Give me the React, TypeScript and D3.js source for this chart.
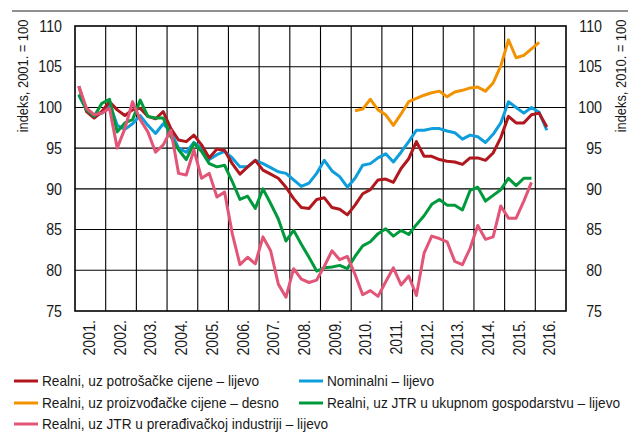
import React from "react";
import * as d3 from "d3";

// ---------- data (quarterly, first quarter = 2001 Q1) ----------
const startYear = 2001;
const yearLabels = ["2001.", "2002.", "2003.", "2004.", "2005.", "2006.", "2007.", "2008.", "2009.", "2010.", "2011.", "2012.", "2013.", "2014.", "2015.", "2016."];
const leftTicks = [75, 80, 85, 90, 95, 100, 105, 110];
const rightTicks = [75, 80, 85, 90, 95, 100, 105, 110];

// Realni, uz potrošačke cijene – lijevo (2001Q1 ..)
const realCpi = [
  102.6, 99.5, 98.7, 99.5, 100.7, 99.7, 99.0, 99.7, 99.9, 98.9, 98.6, 99.5, 97.4, 96.0, 95.8, 96.6,
  95.4, 93.8, 94.9, 94.7, 93.1, 91.8, 92.7, 93.5, 92.3, 91.8, 91.3, 90.2, 88.8, 87.7, 87.6, 88.7, 88.9,
  87.7, 87.5, 86.8, 88.0, 89.4, 89.9, 91.1, 91.2, 90.8, 92.5, 93.7, 95.8, 94.0, 94.0, 93.6, 93.4,
  93.3, 93.0, 93.8, 93.8, 93.5, 94.4, 96.3, 98.9, 98.1, 98.1, 99.1, 99.3, 97.6,
];
const realCpiStart = 0;

// Nominalni – lijevo
const nominal = [
  101.5, 99.7, 98.9, 99.3, 100.5, 97.8, 97.3, 98.0, 99.0, 97.8, 96.8, 98.0, 97.0, 95.0, 94.5, 95.7,
  95.0, 93.6, 94.2, 94.6, 93.8, 92.7, 92.7, 93.5, 93.1, 92.6, 92.1, 91.9, 91.1, 90.3, 90.7, 91.9, 93.5,
  92.2, 91.5, 90.2, 91.3, 92.9, 93.1, 93.8, 94.3, 93.3, 94.5, 95.8, 97.2, 97.2, 97.4, 97.4, 97.1,
  96.9, 96.1, 96.6, 96.4, 95.7, 96.7, 98.1, 100.7, 100.0, 99.3, 100.0, 99.4, 97.2,
];
const nominalStart = 0;

// Realni, uz proizvođačke cijene – desno (from 2010Q1)
const realPpi = [
  99.6, 99.8, 101.0, 99.7, 99.1, 97.8, 99.2, 100.7, 101.1, 101.5, 101.8, 102.0, 101.3, 101.9, 102.1, 102.4,
  102.5, 102.0, 103.0, 105.1, 108.3, 106.1, 106.4, 107.2, 108.0,
];
const realPpiStart = 36;

// Realni, uz JTR u ukupnom gospodarstvu – lijevo
const realUlcTotal = [
  101.6, 99.7, 98.9, 100.5, 101.0, 97.0, 98.1, 98.5, 100.9, 98.9, 98.7, 98.7, 96.4, 94.8, 93.6, 95.6,
  94.6, 93.1, 92.7, 92.9, 90.9, 88.7, 89.1, 87.6, 90.0, 88.2, 86.3, 83.6, 84.9, 83.2, 81.6, 79.9, 80.3,
  80.4, 80.6, 80.2, 81.7, 83.0, 83.5, 84.5, 85.1, 84.2, 84.9, 84.4, 85.6, 86.7, 88.1, 88.7, 88.0,
  88.0, 87.4, 89.8, 90.2, 88.5, 89.2, 89.9, 91.3, 90.4, 91.3, 91.3,
];
const realUlcTotalStart = 0;

// Realni, uz JTR u prerađivačkoj industriji – lijevo
const realUlcManuf = [
  102.6, 99.9, 99.1, 99.3, 99.9, 95.0, 97.4, 100.7, 98.5, 97.0, 94.5, 95.4, 97.2, 91.9, 91.7, 94.8,
  91.3, 91.9, 89.0, 89.6, 84.5, 80.7, 81.6, 80.8, 84.1, 82.4, 78.3, 76.7, 80.2, 78.9, 78.5, 78.8, 80.5,
  82.4, 81.3, 81.7, 79.5, 77.0, 77.5, 76.8, 78.6, 80.3, 78.2, 79.3, 76.9, 82.1, 84.2, 83.9, 83.5,
  81.1, 80.7, 82.7, 85.5, 83.8, 84.1, 87.9, 86.4, 86.4, 88.5, 90.8,
];
const realUlcManufStart = 0;

const legendLabels = [
  "Realni, uz potrošačke cijene – lijevo",
  "Nominalni – lijevo",
  "Realni, uz proizvođačke cijene – desno",
  "Realni, uz JTR u ukupnom gospodarstvu – lijevo",
  "Realni, uz JTR u prerađivačkoj industriji – lijevo",
];

// ---------- styling ----------
const W = 638;
const H = 434;
const M = { left: 75, right: 566, top: 26, bottom: 311 };
const FONT = "'Liberation Sans', Arial, 'Helvetica', sans-serif";
const TEXT = "#1a1a1a";

const COLORS = {
  red: "#b0181e",
  blue: "#0d9edb",
  orange: "#f39200",
  green: "#009a3d",
  pink: "#e25577",
};

type Series = { key: string; values: number[]; start: number; color: string; axis: "left" | "right" };

const series: Series[] = [
  { key: "nominal", values: nominal, start: nominalStart, color: COLORS.blue, axis: "left" },
  { key: "realCpi", values: realCpi, start: realCpiStart, color: COLORS.red, axis: "left" },
  { key: "realPpi", values: realPpi, start: realPpiStart, color: COLORS.orange, axis: "right" },
  { key: "realUlcTotal", values: realUlcTotal, start: realUlcTotalStart, color: COLORS.green, axis: "left" },
  { key: "realUlcManuf", values: realUlcManuf, start: realUlcManufStart, color: COLORS.pink, axis: "left" },
];

const legendItems = [
  { label: legendLabels[0], color: COLORS.red, col: 0, row: 0 },
  { label: legendLabels[1], color: COLORS.blue, col: 1, row: 0 },
  { label: legendLabels[2], color: COLORS.orange, col: 0, row: 1 },
  { label: legendLabels[3], color: COLORS.green, col: 1, row: 1 },
  { label: legendLabels[4], color: COLORS.pink, col: 0, row: 2 },
];

const NUM_SCALE = 0.89; // condensed look of numerals

export default function App() {
  const x = d3.scaleLinear().domain([startYear, startYear + yearLabels.length]).range([M.left, M.right]);
  const yL = d3.scaleLinear().domain([75, 110]).range([M.bottom, M.top]);
  const yR = d3.scaleLinear().domain([75, 110]).range([M.bottom, M.top]);

  const qx = (i: number) => x(startYear + (i + 0.5) / 4);

  const lineFor = (s: Series) => {
    const sc = s.axis === "left" ? yL : yR;
    const gen = d3
      .line<number>()
      .x((_, i) => qx(s.start + i))
      .y((v) => sc(v));
    return gen(s.values) || "";
  };

  const innerY = leftTicks.filter((t) => t !== 75 && t !== 110);
  const innerX = d3.range(startYear + 1, startYear + yearLabels.length);

  const legendColX = [14, 299];
  const legendRowY = [381, 403, 424];

  return (
    <div style={{ position: "absolute", left: 0, top: 0 }}>
      <svg width={W} height={H} style={{ display: "block", background: "#fff" }} fontFamily={FONT}>
        {/* top rule */}
        <line x1={12} x2={628} y1={11} y2={11} stroke="#6b6b6b" strokeWidth={1.5} />

        {/* grid */}
        {innerY.map((t) => (
          <line key={"hy" + t} x1={M.left} x2={M.right} y1={yL(t)} y2={yL(t)} stroke="#000" strokeWidth={1.1} />
        ))}
        {innerX.map((t) => (
          <line key={"vx" + t} x1={x(t)} x2={x(t)} y1={M.top} y2={M.bottom} stroke="#000" strokeWidth={1.1} />
        ))}

        {/* series */}
        {series.map((s) => (
          <path
            key={s.key}
            d={lineFor(s)}
            fill="none"
            stroke={s.color}
            strokeWidth={3}
            strokeLinejoin="round"
            strokeLinecap="butt"
          />
        ))}

        {/* frame */}
        <rect x={M.left} y={M.top} width={M.right - M.left} height={M.bottom - M.top} fill="none" stroke="#000" strokeWidth={1.6} />

        {/* left ticks */}
        {leftTicks.map((t) => (
          <text
            key={"lt" + t}
            transform={`translate(62,${yL(t)}) scale(${NUM_SCALE},1)`}
            dy="0.36em"
            textAnchor="end"
            fontSize={16}
            fill={TEXT}
          >
            {t}
          </text>
        ))}
        {/* right ticks */}
        {rightTicks.map((t) => (
          <text
            key={"rt" + t}
            transform={`translate(602,${yR(t)}) scale(${NUM_SCALE},1)`}
            dy="0.36em"
            textAnchor="end"
            fontSize={16}
            fill={TEXT}
          >
            {t}
          </text>
        ))}

        {/* axis titles */}
        <text transform="translate(23,76) rotate(-90) scale(0.92,1)" textAnchor="middle" dy="0.36em" fontSize={14} fill={TEXT}>
          indeks, 2001. = 100
        </text>
        <text transform="translate(621,76) rotate(-90) scale(0.92,1)" textAnchor="middle" dy="0.36em" fontSize={14} fill={TEXT}>
          indeks, 2010. = 100
        </text>

        {/* year labels */}
        {yearLabels.map((lab, i) => (
          <text
            key={lab}
            transform={`translate(${x(startYear + i + 0.5) - 1},320) rotate(-90) scale(${NUM_SCALE},1)`}
            textAnchor="end"
            dy="0.36em"
            fontSize={16}
            fill={TEXT}
          >
            {lab}
          </text>
        ))}

        {/* legend */}
        {legendItems.map((it) => (
          <g key={it.label}>
            <line
              x1={legendColX[it.col]}
              x2={legendColX[it.col] + 24}
              y1={legendRowY[it.row]}
              y2={legendRowY[it.row]}
              stroke={it.color}
              strokeWidth={3}
            />
            <text
              transform={`translate(${legendColX[it.col] + 28},${legendRowY[it.row]}) scale(0.9,1)`}
              dy="0.36em"
              fontSize={15.2}
              fill={TEXT}
            >
              {it.label}
            </text>
          </g>
        ))}
      </svg>
    </div>
  );
}
